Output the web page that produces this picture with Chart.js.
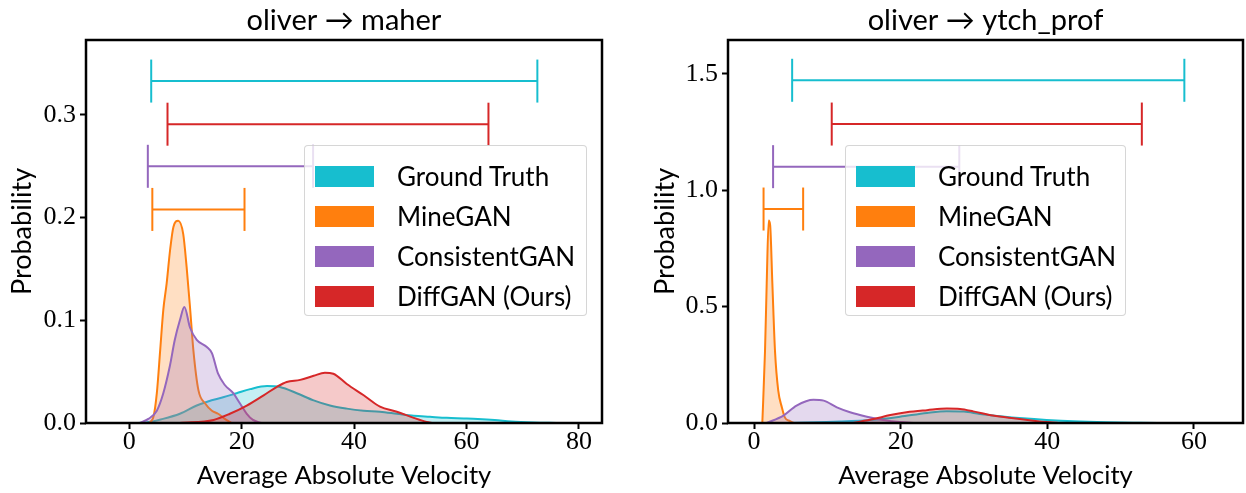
<!DOCTYPE html>
<html>
<head>
<meta charset="utf-8">
<script src="https://cdn.jsdelivr.net/npm/chart.js@4.4.0/dist/chart.umd.min.js"></script>
<style>
  body { margin: 0; background: #fff; }
  #wrap { position: relative; width: 1246px; height: 493px; }
  .panel { position: absolute; top: 0; height: 493px; }
  .legend {
    position: absolute; box-sizing: border-box;
    background: rgba(255, 255, 255, 0.8);
    border: 1px solid rgba(204, 204, 204, 0.8); border-radius: 4px;
    font-family: Lato, "Noto Sans", sans-serif; font-size: 26px; color: #000;
    padding: 10px 0 0 10px;
  }
  .legend .row { display: flex; align-items: center; height: 40px; margin-top: -9px; margin-bottom: 9px; }
  .legend .row:first-child { margin-top: 0; }
  .legend .patch { width: 59px; height: 21px; margin-right: 23px; }
</style>
</head>
<body>
<div id="wrap">
  <div class="panel" style="left:0;width:620px"><canvas id="chartMaher" width="620" height="493"></canvas></div>
  <div class="panel" style="left:620px;width:626px"><canvas id="chartYtch" width="626" height="493"></canvas></div>
</div>
<script>
// series names and colours
const seriesNames = ["Ground Truth", "MineGAN", "ConsistentGAN", "DiffGAN (Ours)"];
const seriesColors = ["#17becf", "#ff7f0e", "#9467bd", "#d62728"];

// ---------- oliver -> maher ----------
const maherTitle = "oliver \u2192 maher";
const maherXTicks = [0, 20, 40, 60, 80];
const maherYTicks = [0, 0.1, 0.2, 0.3];

const maherGtX = [0, 3, 6, 9, 12, 14, 16.7, 19.1, 21.5, 24.5, 26.8, 29.8, 32.8, 35.7, 38.7, 41.7, 44.6, 47.6, 50.6, 53.5, 56.5, 59.5, 62, 65, 68, 72, 76];
const maherGtY = [0, 0.0005, 0.004, 0.009, 0.017, 0.021, 0.025, 0.029, 0.033, 0.036, 0.035, 0.029, 0.022, 0.017, 0.014, 0.012, 0.011, 0.009, 0.007, 0.006, 0.005, 0.0045, 0.004, 0.003, 0.0015, 0.0005, 0];
const maherMineX = [3.5, 4.3, 4.9, 5.5, 6.05, 6.65, 7.25, 7.85, 8.7, 9.6, 10.2, 10.8, 11.4, 12.3, 13.5, 14.7, 15.8, 17, 18.2];
const maherMineY = [0, 0.006, 0.029, 0.071, 0.11, 0.136, 0.168, 0.191, 0.197, 0.184, 0.152, 0.113, 0.071, 0.032, 0.019, 0.012, 0.009, 0.004, 0];
const maherConsX = [1.9, 3.4, 4.9, 6.05, 7.2, 8.1, 9.0, 9.8, 10.8, 12.0, 13.8, 14.7, 15.8, 17.0, 18.5, 19.7, 20.9, 22, 23.5];
const maherConsY = [0, 0.004, 0.012, 0.029, 0.055, 0.081, 0.1, 0.113, 0.093, 0.081, 0.074, 0.068, 0.048, 0.037, 0.029, 0.019, 0.009, 0.003, 0];
const maherDiffX = [9, 15, 17.9, 20.9, 23.9, 26.2, 28, 30.4, 32.8, 34.8, 36.3, 38.7, 41.7, 44.6, 47.6, 50.6, 52.9, 54];
const maherDiffY = [0, 0.003, 0.009, 0.017, 0.027, 0.035, 0.040, 0.042, 0.046, 0.049, 0.048, 0.038, 0.027, 0.016, 0.011, 0.005, 0.001, 0];

// range bars (same order as seriesNames)
const maherRangeY = [0.333, 0.208, 0.25, 0.291];
const maherRangeLo = [3.9, 4.1, 3.3, 6.8];
const maherRangeHi = [72.6, 20.5, 32.7, 63.9];

// ---------- oliver -> ytch_prof ----------
const ytchTitle = "oliver \u2192 ytch_prof";
const ytchXTicks = [0, 20, 40, 60];
const ytchYTicks = [0, 0.5, 1.0, 1.5];

const ytchGtX = [4.9, 11.7, 16.3, 19.9, 23.6, 26.3, 28.6, 30.8, 33.6, 36.7, 39.9, 43.6, 48.1, 52.7, 56];
const ytchGtY = [0, 0.006, 0.014, 0.027, 0.043, 0.05, 0.049, 0.039, 0.029, 0.02, 0.013, 0.007, 0.003, 0.001, 0];
const ytchMineX = [1.13, 1.5, 1.73, 2.0, 2.2, 2.5, 2.86, 3.3, 3.8, 4.2, 4.9, 5.4];
const ytchMineY = [0, 0.31, 0.6, 0.87, 0.85, 0.6, 0.31, 0.14, 0.067, 0.024, 0.008, 0];
const ytchConsX = [1.73, 4.0, 5.8, 8.1, 9.5, 11.3, 13.1, 15.4, 17.6, 19.9, 22];
const ytchConsY = [0, 0.032, 0.075, 0.1, 0.096, 0.067, 0.046, 0.027, 0.013, 0.004, 0];
const ytchDiffX = [13.5, 16.3, 18.6, 20.8, 23.6, 26.3, 28.1, 29.9, 32.6, 35.4, 38.1, 40.4, 41.7];
const ytchDiffY = [0, 0.017, 0.034, 0.046, 0.055, 0.062, 0.06, 0.05, 0.032, 0.02, 0.01, 0.003, 0];

const ytchRangeY = [1.472, 0.919, 1.101, 1.284];
const ytchRangeLo = [5.2, 1.3, 2.6, 10.6];
const ytchRangeHi = [58.7, 6.7, 28.0, 52.9];

const serifFont = "'Liberation Serif', 'DejaVu Serif', serif";
const sansFont = "Lato, 'Noto Sans', sans-serif";

function withAlpha(hex, a) {
    const n = parseInt(hex.slice(1), 16);
    return `rgba(${(n >> 16) & 255}, ${(n >> 8) & 255}, ${n & 255}, ${a})`;
}

function kdeDataset(i, xs, ys) {
    return {
        label: seriesNames[i],
        data: xs.map((x, k) => ({ x: x, y: ys[k] })),
        showLine: true,
        borderColor: seriesColors[i],
        backgroundColor: withAlpha(seriesColors[i], 0.25),
        borderWidth: 2,
        pointRadius: 0,
        fill: "origin",
        cubicInterpolationMode: "monotone",
        order: 10 - i
    };
}

function rangeDataset(i, y, lo, hi) {
    return {
        label: seriesNames[i] + " range",
        data: [{ x: lo, y: y }, { x: hi, y: y }],
        showLine: true,
        borderColor: seriesColors[i],
        borderWidth: 2,
        pointStyle: "line",
        pointRotation: 90,
        pointRadius: 21.5,
        pointBorderColor: seriesColors[i],
        pointBorderWidth: 2,
        fill: false,
        order: 20
    };
}

// black box round the plot area
const framePlugin = {
    id: "frame",
    afterDatasetsDraw(chart) {
        const { ctx, chartArea: a } = chart;
        ctx.save();
        ctx.strokeStyle = "#000";
        ctx.lineWidth = 2.5;
        ctx.strokeRect(a.left, a.top, a.right - a.left, a.bottom - a.top);
        ctx.restore();
    }
};

function makeChart(canvasId, cfg) {
    const ctx = document.getElementById(canvasId).getContext("2d");
    return new Chart(ctx, {
        type: "scatter",
        data: { datasets: cfg.datasets },
        options: {
            responsive: false,
            animation: false,
            layout: { autoPadding: false, padding: { left: 0, right: cfg.padRight, top: 0, bottom: 0 } },
            plugins: {
                legend: { display: false },
                tooltip: { enabled: false },
                title: {
                    display: true,
                    text: cfg.title,
                    fullSize: false,
                    color: "#000",
                    font: { family: sansFont, size: 29, weight: "normal" },
                    padding: { top: 3, bottom: 2.2 }
                }
            },
            scales: {
                x: {
                    type: "linear",
                    min: cfg.xMin,
                    max: cfg.xMax,
                    afterBuildTicks: s => { s.ticks = cfg.xTicks.map(v => ({ value: v })); },
                    afterFit: s => { s.height = 70; },
                    border: { display: false },
                    grid: { drawOnChartArea: false, drawTicks: true, tickLength: 6, color: "#000", tickColor: "#000", tickWidth: 2 },
                    ticks: { color: "#000", padding: -2, maxRotation: 0, font: { family: serifFont, size: 26 }, callback: v => String(v) },
                    title: { display: true, text: "Average Absolute Velocity", color: "#000", font: { family: sansFont, size: 25.6 }, padding: { top: 0, bottom: 2 } }
                },
                y: {
                    type: "linear",
                    min: 0,
                    max: cfg.yMax,
                    afterBuildTicks: s => { s.ticks = cfg.yTicks.map(v => ({ value: v })); },
                    afterFit: s => { s.width = cfg.yWidth; },
                    border: { display: false },
                    grid: { drawOnChartArea: false, drawTicks: true, tickLength: 6, color: "#000", tickColor: "#000", tickWidth: 2 },
                    ticks: { color: "#000", padding: 4, font: { family: serifFont, size: 26 }, callback: v => v.toFixed(1) },
                    title: { display: true, text: "Probability", color: "#000", font: { family: sansFont, size: 27 }, padding: { top: cfg.yTitlePad, bottom: 0 } }
                }
            }
        },
        plugins: [framePlugin]
    });
}

function makeLegend(left, top, width) {
    const box = document.createElement("div");
    box.className = "legend";
    box.style.left = left + "px";
    box.style.top = top + "px";
    box.style.width = width + "px";
    box.style.height = "171px";
    seriesNames.forEach((name, i) => {
        const row = document.createElement("div");
        row.className = "row";
        row.innerHTML = `<div class="patch" style="background:${seriesColors[i]}"></div><span>${name}</span>`;
        box.appendChild(row);
    });
    document.getElementById("wrap").appendChild(box);
}

const maherKde = [[maherGtX, maherGtY], [maherMineX, maherMineY], [maherConsX, maherConsY], [maherDiffX, maherDiffY]];
const ytchKde = [[ytchGtX, ytchGtY], [ytchMineX, ytchMineY], [ytchConsX, ytchConsY], [ytchDiffX, ytchDiffY]];

makeChart("chartMaher", {
    title: maherTitle,
    xMin: -7.7, xMax: 84.1, yMax: 0.373,
    xTicks: maherXTicks, yTicks: maherYTicks,
    yWidth: 86, yTitlePad: 6, padRight: 18,
    datasets: [
        ...maherKde.map((d, i) => kdeDataset(i, d[0], d[1])),
        ...seriesNames.map((n, i) => rangeDataset(i, maherRangeY[i], maherRangeLo[i], maherRangeHi[i]))
    ]
});

makeChart("chartYtch", {
    title: ytchTitle,
    xMin: -3.55, xMax: 66.7, yMax: 1.645,
    xTicks: ytchXTicks, yTicks: ytchYTicks,
    yWidth: 108, yTitlePad: 29, padRight: 3,
    datasets: [
        ...ytchKde.map((d, i) => kdeDataset(i, d[0], d[1])),
        ...seriesNames.map((n, i) => rangeDataset(i, ytchRangeY[i], ytchRangeLo[i], ytchRangeHi[i]))
    ]
});

makeLegend(304, 145, 283);
makeLegend(845, 145, 281);
</script>
</body>
</html>
